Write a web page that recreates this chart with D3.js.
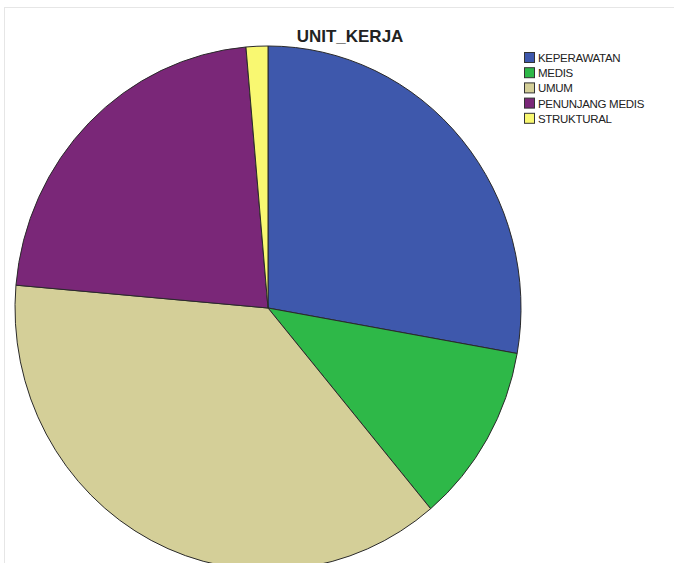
<!DOCTYPE html>
<html>
<head>
<meta charset="utf-8">
<script src="https://cdn.jsdelivr.net/npm/d3@7/dist/d3.min.js"></script>
<style>
  html, body { margin: 0; padding: 0; background: #ffffff; }
  svg { display: block; }
</style>
</head>
<body>
<svg id="chart" width="674" height="563"></svg>
<script>
const title = "UNIT_KERJA";
const categories = ["KEPERAWATAN", "MEDIS", "UMUM", "PENUNJANG MEDIS", "STRUKTURAL"];
const values = [20, 8, 27, 16, 1];
const colors = ["#3e58ac", "#2eb848", "#d4cf98", "#7a2778", "#f9f871"];

const svg = d3.select("#chart");
const W = 674, H = 563;

// faint frame
svg.append("rect").attr("x", 4.5).attr("y", 7.5).attr("width", W - 4).attr("height", H)
  .attr("fill", "none").attr("stroke", "#e6e6e6").attr("stroke-width", 1);

// title
svg.append("text")
  .attr("x", 350).attr("y", 42)
  .attr("text-anchor", "middle")
  .attr("font-family", "Liberation Sans, Arial, sans-serif")
  .attr("font-size", 17).attr("font-weight", "bold")
  .attr("fill", "#222")
  .text(title);

const cx = 268, cy = 308, rx = 253, ry = 262;
const data = categories.map((c, i) => ({ name: c, value: values[i], color: colors[i] }));
const pie = d3.pie().value(d => d.value).sort(null);
const arc = d3.arc().innerRadius(0).outerRadius(rx);

const g = svg.append("g")
  .attr("transform", `translate(${cx},${cy}) scale(1,${ry / rx})`);
g.selectAll("path")
  .data(pie(data))
  .join("path")
  .attr("d", arc)
  .attr("fill", d => d.data.color)
  .attr("stroke", "#2a2a2a")
  .attr("stroke-width", 1)
  .attr("vector-effect", "non-scaling-stroke");

// legend
const lg = svg.append("g").attr("transform", "translate(524,52)");
const rows = lg.selectAll("g").data(data).join("g")
  .attr("transform", (d, i) => `translate(0,${i * 15.2})`);
rows.append("rect")
  .attr("x", 0.5).attr("y", 0.5).attr("width", 10).attr("height", 10)
  .attr("fill", d => d.color).attr("stroke", "#333").attr("stroke-width", 1);
rows.append("text")
  .attr("x", 14).attr("y", 10)
  .attr("font-family", "Liberation Sans, Arial, sans-serif")
  .attr("font-size", 11.5)
  .attr("letter-spacing", -0.3)
  .attr("fill", "#222")
  .text(d => d.name);
</script>
</body>
</html>
